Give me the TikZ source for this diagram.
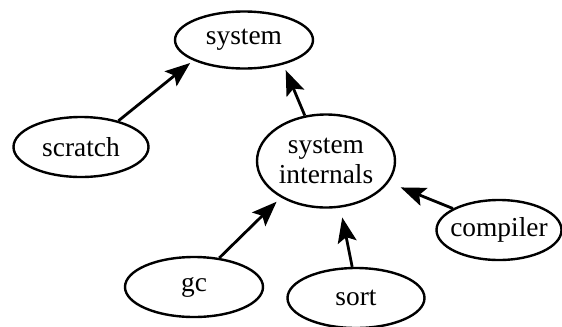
\documentclass[tikz,border=0pt]{standalone}
\usepackage{fontspec}
\setmainfont{Liberation Serif}
\usetikzlibrary{shapes.geometric,arrows.meta}
\begin{document}
\begin{tikzpicture}[x=1bp,y=-1bp,
  topic/.style={ellipse,draw,line width=2.4bp,inner sep=0pt,minimum width=137bp,minimum height=60bp,
    font=\fontsize{27.5}{33}\selectfont,align=center},
  link/.style={line width=2.8bp,-{Stealth[length=25bp,width=19bp,inset=5bp]}}]
\useasboundingbox (0,0) rectangle (562,326);
\node[topic,minimum width=138bp,minimum height=57bp] (system) at (244,40) {system};
\node[topic,minimum width=135bp] (scratch) at (81,147) {scratch};
\node[topic,minimum width=138bp,minimum height=93bp] (internals) at (326,161) {system\\[-3bp]internals};
\node[topic,minimum width=125bp,inner xsep=-14bp] (compiler) at (499,230) {compiler};
\node[topic,minimum width=138bp] (gc) at (194,287) {gc};
\node[topic,minimum width=137bp] (sort) at (356,298) {sort};
\draw[link,shorten >=4bp] (scratch.35) -- (system.202);
\draw[link,shorten >=6bp] (internals.115) -- (system.328);
\draw[link,shorten >=6bp] (gc.49) -- (internals.219);
\draw[link,shorten >=10bp] (sort.97) -- (internals.287);
\draw[link,shorten >=13bp] (compiler.155) -- (internals.341);
\end{tikzpicture}
\end{document}
